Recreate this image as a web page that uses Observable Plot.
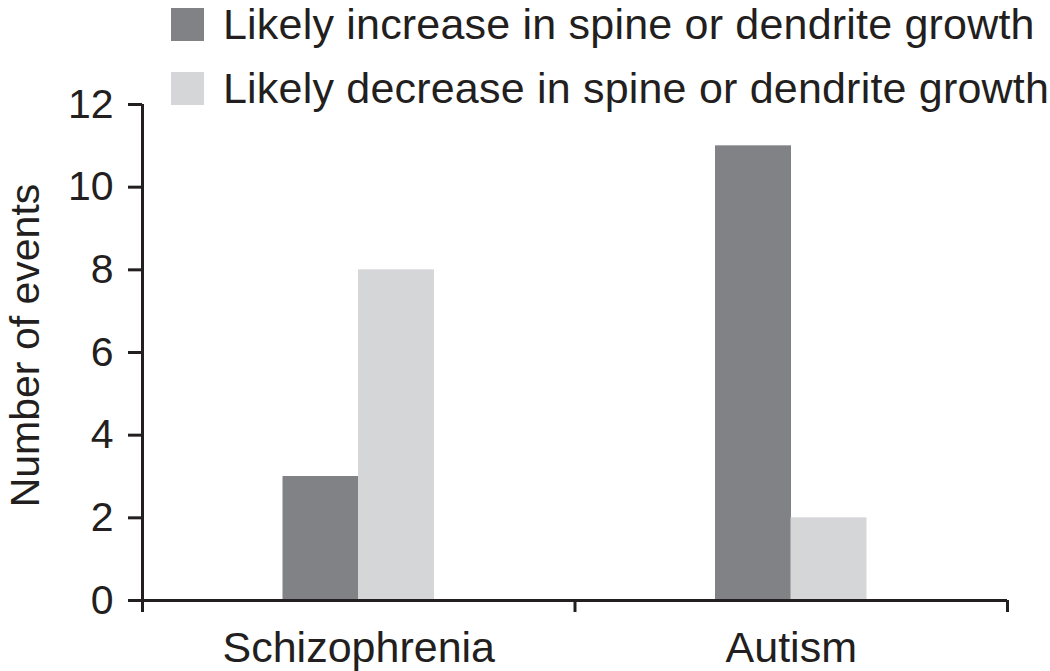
<!DOCTYPE html>
<html>
<head>
<meta charset="utf-8">
<script src="https://cdn.jsdelivr.net/npm/d3@7"></script>
<script src="https://cdn.jsdelivr.net/npm/@observablehq/plot@0.6"></script>
<style>
  html, body { margin: 0; padding: 0; background: #ffffff; }
  #wrap { position: relative; width: 1050px; height: 671px; overflow: hidden; font-family: "Liberation Sans", Arial, Helvetica, sans-serif; color: #231f20; }
  #legend { position: absolute; left: 171px; top: 8px; }
  .row { display: flex; align-items: flex-start; height: 33px; margin-bottom: 31px; white-space: nowrap; }
  .sw { width: 33px; height: 33px; flex: none; }
  .lab { font-size: 43px; line-height: 33px; margin-left: 19px; letter-spacing: 0.2px; }
</style>
</head>
<body>
<div id="wrap">
  <div id="chart"></div>
  <div id="legend"></div>
</div>
<script>
const categories = ["Schizophrenia", "Autism"];
const seriesNames = ["Likely increase in spine or dendrite growth", "Likely decrease in spine or dendrite growth"];
const increaseValues = [3, 11];
const decreaseValues = [8, 2];
const yTicks = [0, 2, 4, 6, 8, 10, 12];
const seriesColors = ["#808285", "#d5d6d8"];
const yLabel = "Number of events";

const seriesValues = [increaseValues, decreaseValues];
const rows = [];
seriesNames.forEach((s, si) => {
  categories.forEach((c, ci) => {
    rows.push({category: c, ci, series: s, si, value: seriesValues[si][ci]});
  });
});

// each bar occupies one side of its category's centre
const barInsets = [
  {insetLeft: 140.5, insetRight: 216},
  {insetLeft: 216, insetRight: 140.5}
];

const ink = "#231f20";

const chart = Plot.plot({
  width: 1050,
  height: 671,
  marginLeft: 142,
  marginRight: 43,
  marginTop: 104,
  marginBottom: 71,
  style: {fontFamily: "'Liberation Sans', Arial, Helvetica, sans-serif", fontSize: "41px", color: ink, background: "#ffffff", overflow: "visible"},
  x: {domain: [0, categories.length]},
  y: {domain: [0, 12]},
  color: {domain: seriesNames, range: seriesColors},
  marks: [
    ...seriesNames.map((s, si) => Plot.rectY(rows.filter(r => r.si === si), {
      x1: "ci",
      x2: d => d.ci + 1,
      y1: 0,
      y2: "value",
      fill: "series",
      ...barInsets[si]
    })),
    Plot.ruleY([0], {stroke: ink, strokeWidth: 3}),
    Plot.ruleX([0], {stroke: ink, strokeWidth: 3}),
    Plot.axisX({ticks: d3.range(categories.length + 1), tickSize: 12, strokeWidth: 3, tickFormat: () => "", label: null}),
    Plot.axisX({ticks: categories.map((c, i) => i + 0.5), tickSize: 0, tickPadding: 31, fontSize: 43, tickFormat: v => categories[Math.floor(v)], label: null}),
    Plot.axisY({ticks: yTicks, tickSize: 14, tickPadding: 15, strokeWidth: 3, fontSize: 41, label: null}),
    Plot.text([yLabel], {frameAnchor: "left", rotate: -90, dx: -104, dy: -7, lineAnchor: "bottom", textAnchor: "middle", fontSize: 41, fill: ink})
  ]
});
document.getElementById("chart").appendChild(chart);

const legend = d3.select("#legend");
seriesNames.forEach((s, si) => {
  const row = legend.append("div").attr("class", "row");
  row.append("div").attr("class", "sw").style("background", seriesColors[si]);
  row.append("div").attr("class", "lab").text(s);
});
</script>
</body>
</html>
